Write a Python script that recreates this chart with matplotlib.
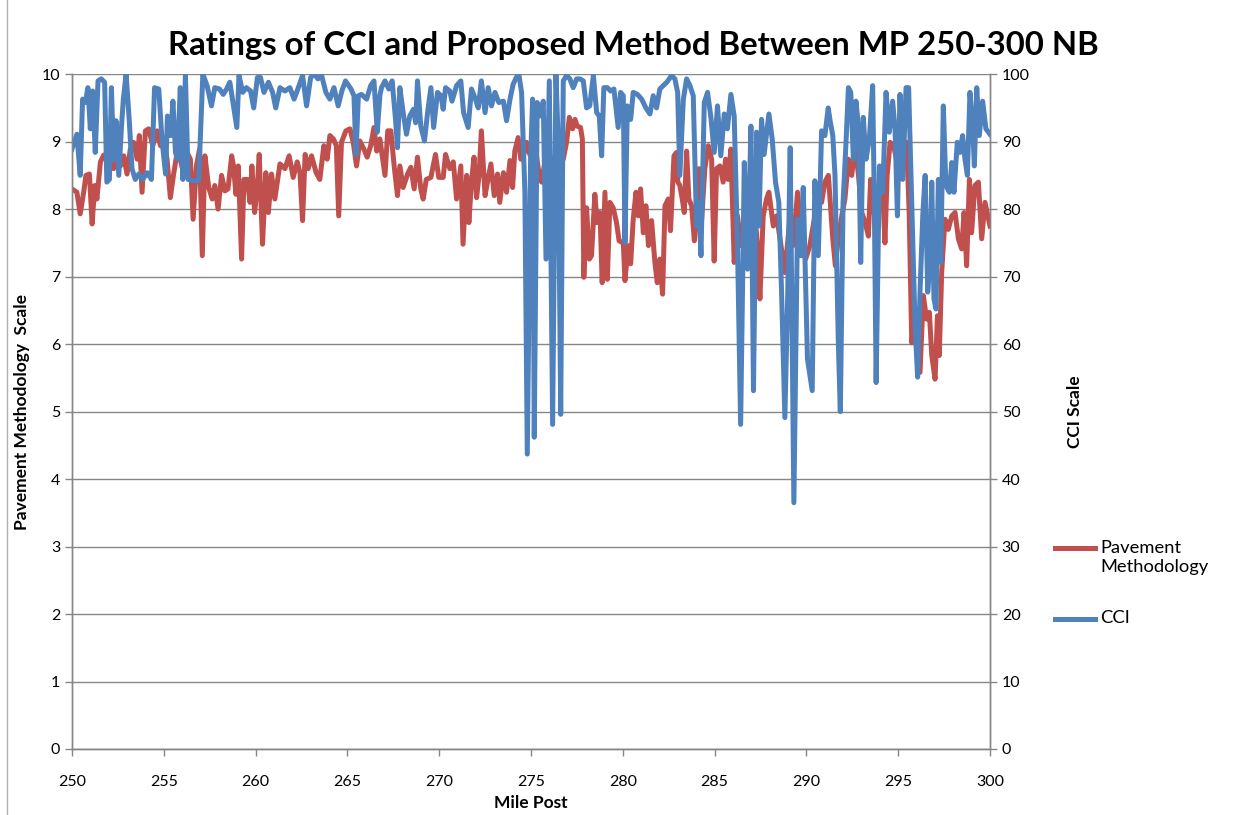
import matplotlib
matplotlib.use("Agg")
import matplotlib.pyplot as plt
from matplotlib.lines import Line2D

plt.rcParams['font.family'] = ['Lato', 'DejaVu Sans']

# Pavement methodology rating (left axis, 0-10)
pm_miles = [250.0, 250.27, 250.45, 250.64, 250.76, 250.95, 251.1, 251.24, 251.36, 251.55,
            251.73, 251.9, 252.1, 252.27, 252.45, 252.64, 252.82, 253.0, 253.18, 253.36,
            253.55, 253.67, 253.82, 254.0, 254.18, 254.4, 254.64, 254.82, 255.0, 255.18,
            255.36, 255.55, 255.73, 255.9, 256.1, 256.27, 256.45, 256.6, 256.78, 256.95,
            257.1, 257.24, 257.45, 257.64, 257.78, 257.96, 258.15, 258.33, 258.5, 258.7,
            258.8, 258.93, 259.06, 259.24, 259.37, 259.55, 259.7, 259.8, 259.95, 260.1,
            260.2, 260.38, 260.56, 260.7, 260.87, 261.05, 261.33, 261.6, 261.83, 262.05,
            262.27, 262.42, 262.56, 262.7, 262.87, 263.05, 263.3, 263.5, 263.72, 263.9,
            264.05, 264.24, 264.4, 264.53, 264.68, 264.92, 265.14, 265.32, 265.5, 265.68,
            265.9, 266.08, 266.27, 266.45, 266.6, 266.77, 267.05, 267.2, 267.37, 267.55,
            267.73, 267.86, 268.04, 268.28, 268.46, 268.64, 268.82, 269.0, 269.13, 269.3,
            269.55, 269.8, 269.98, 270.22, 270.35, 270.58, 270.77, 270.95, 271.18, 271.3,
            271.5, 271.62, 271.76, 271.9, 272.04, 272.17, 272.3, 272.5, 272.63, 272.82,
            273.0, 273.18, 273.3, 273.5, 273.67, 273.86, 274.0, 274.12, 274.3, 274.45,
            274.55, 274.76, 274.95, 275.2, 275.4, 275.58, 275.76, 276.03, 276.4, 276.76,
            276.94, 277.09, 277.27, 277.4, 277.52, 277.7, 277.8, 277.88, 278.03, 278.18,
            278.3, 278.48, 278.6, 278.76, 278.88, 279.03, 279.16, 279.3, 279.48, 279.66,
            279.8, 280.03, 280.12, 280.3, 280.43, 280.57, 280.72, 280.84, 280.97, 281.12,
            281.26, 281.4, 281.57, 281.75, 281.88, 282.02, 282.17, 282.3, 282.48, 282.6,
            282.79, 282.93, 283.0, 283.11, 283.24, 283.35, 283.48, 283.6, 283.75, 283.9,
            284.02, 284.15, 284.3, 284.47, 284.66, 284.84, 284.98, 285.11, 285.29, 285.47,
            285.6, 285.74, 285.89, 286.07, 286.25, 286.44, 286.65, 286.83, 287.02, 287.2,
            287.34, 287.47, 287.65, 287.83, 287.96, 288.2, 288.38, 288.62, 288.83, 289.1,
            289.28, 289.52, 289.74, 289.96, 290.19, 290.43, 290.6, 290.83, 291.01, 291.2,
            291.44, 291.58, 291.74, 291.93, 292.1, 292.29, 292.47, 292.65, 292.84, 293.02,
            293.2, 293.38, 293.5, 293.65, 293.83, 294.0, 294.16, 294.28, 294.4, 294.56,
            294.74, 294.92, 295.1, 295.28, 295.46, 295.6, 295.74, 295.86, 296.0, 296.19,
            296.37, 296.55, 296.7, 296.83, 297.01, 297.14, 297.24, 297.37, 297.55, 297.73,
            297.92, 298.1, 298.28, 298.46, 298.59, 298.73, 298.88, 299.0, 299.18, 299.37,
            299.55, 299.73, 300.0]
pm_scale = [8.3, 8.25, 7.93, 8.25, 8.5, 8.52, 7.78, 8.35, 8.15, 8.7,
            8.8, 8.81, 8.7, 8.6, 8.74, 8.64, 8.79, 8.52, 8.89, 8.99,
            8.74, 9.09, 8.25, 9.16, 9.19, 8.94, 9.16, 8.94, 9.04, 8.74,
            8.17, 8.54, 8.84, 8.74, 8.5, 8.84, 8.74, 7.85, 8.64, 8.89,
            7.31, 8.79, 8.32, 8.15, 8.35, 8.0, 8.5, 8.27, 8.3, 8.79,
            8.64, 8.22, 8.64, 7.26, 8.44, 8.44, 8.1, 8.64, 7.95, 8.35,
            8.81, 7.48, 8.54, 7.95, 8.52, 8.15, 8.67, 8.6, 8.79, 8.47,
            8.7, 8.54, 7.83, 8.81, 8.6, 8.79, 8.54, 8.44, 8.94, 8.74,
            9.09, 9.04, 8.94, 7.9, 8.99, 9.16, 9.19, 8.99, 8.64, 9.01,
            8.89, 8.77, 8.94, 9.21, 8.86, 9.04, 8.5, 9.16, 9.16, 8.64,
            8.2, 8.64, 8.32, 8.52, 8.62, 8.3, 8.77, 8.3, 8.15, 8.44,
            8.47, 8.81, 8.47, 8.47, 8.81, 8.6, 8.7, 8.15, 8.64, 7.48,
            8.5, 7.8, 8.4, 8.77, 8.17, 8.5, 9.16, 8.2, 8.4, 8.67,
            8.2, 8.52, 8.1, 8.54, 8.25, 8.72, 8.32, 8.86, 9.06, 8.74,
            8.74, 8.99, 8.8, 8.99, 8.6, 8.4, 8.7, 8.7, 8.8, 8.74,
            8.99, 9.36, 9.19, 9.33, 9.23, 9.21, 9.04, 6.99, 8.02, 7.26,
            7.31, 8.22, 7.8, 7.95, 6.91, 8.25, 6.96, 8.1, 8.02, 7.8,
            7.53, 7.5, 6.94, 7.46, 7.19, 7.85, 8.25, 7.9, 8.3, 7.65,
            8.05, 7.46, 7.83, 7.21, 6.91, 7.26, 6.74, 8.05, 8.15, 7.68,
            8.79, 8.84, 8.4, 8.35, 8.15, 7.95, 8.86, 8.15, 8.05, 7.53,
            7.85, 8.6, 7.85, 8.6, 8.94, 8.74, 7.23, 8.6, 8.64, 8.4,
            8.74, 8.44, 8.89, 7.21, 7.9, 7.46, 7.65, 7.75, 7.56, 7.9,
            7.46, 6.67, 7.9, 8.15, 8.25, 7.75, 7.9, 7.46, 7.06, 7.85,
            7.46, 8.25, 7.56, 7.26, 7.46, 7.85, 8.35, 8.1, 8.4, 8.5,
            7.56, 7.16, 7.56, 7.9, 8.15, 8.74, 8.5, 8.94, 8.5, 7.95,
            7.8, 7.6, 8.44, 7.95, 8.25, 8.35, 8.25, 7.5, 8.5, 8.99,
            8.94, 8.74, 8.69, 8.84, 8.99, 7.95, 6.02, 6.27, 5.98, 5.58,
            6.72, 6.37, 6.47, 5.83, 5.48, 6.42, 5.83, 7.06, 7.85, 7.7,
            7.9, 7.95, 7.56, 7.41, 7.95, 7.16, 8.44, 7.65, 8.35, 8.4,
            7.56, 8.1, 7.75]

# CCI rating (right axis, 0-100)
cci_miles = [250.0, 250.27, 250.45, 250.58, 250.73, 250.87, 251.0, 251.13, 251.27, 251.42,
             251.6, 251.78, 251.9, 252.04, 252.15, 252.27, 252.4, 252.55, 252.7, 252.8,
             252.95, 253.13, 253.27, 253.45, 253.64, 253.85, 254.1, 254.33, 254.5, 254.73,
             254.9, 255.1, 255.2, 255.38, 255.5, 255.64, 255.75, 255.9, 256.04, 256.18,
             256.33, 256.64, 256.9, 257.13, 257.36, 257.6, 257.78, 258.04, 258.24, 258.42,
             258.6, 258.8, 258.98, 259.1, 259.3, 259.5, 259.73, 259.9, 260.1, 260.27,
             260.46, 260.7, 260.93, 261.1, 261.33, 261.6, 261.87, 262.1, 262.33, 262.56,
             262.78, 263.0, 263.2, 263.4, 263.6, 263.83, 264.05, 264.27, 264.5, 264.7,
             264.9, 265.2, 265.36, 265.47, 265.6, 265.77, 266.05, 266.27, 266.45, 266.63,
             266.77, 266.86, 267.05, 267.26, 267.44, 267.63, 267.73, 267.86, 268.04, 268.22,
             268.4, 268.6, 268.72, 268.82, 269.0, 269.2, 269.37, 269.55, 269.7, 269.91,
             270.1, 270.22, 270.35, 270.58, 270.7, 270.95, 271.18, 271.33, 271.58, 271.76,
             271.95, 272.13, 272.3, 272.5, 272.67, 272.85, 273.04, 273.25, 273.5, 273.67,
             273.86, 274.03, 274.2, 274.34, 274.49, 274.67, 274.8, 274.98, 275.09, 275.18,
             275.34, 275.53, 275.67, 275.82, 276.0, 276.18, 276.36, 276.49, 276.62, 276.76,
             276.94, 277.12, 277.3, 277.49, 277.67, 277.85, 278.03, 278.2, 278.4, 278.58,
             278.72, 278.85, 278.97, 279.16, 279.34, 279.52, 279.75, 279.88, 280.03, 280.12,
             280.25, 280.43, 280.57, 280.8, 281.03, 281.26, 281.48, 281.66, 281.84, 282.02,
             282.2, 282.4, 282.66, 282.84, 282.99, 283.11, 283.3, 283.48, 283.66, 283.84,
             284.02, 284.15, 284.26, 284.44, 284.62, 284.8, 284.98, 285.16, 285.34, 285.53,
             285.7, 285.89, 286.07, 286.25, 286.42, 286.62, 286.8, 286.98, 287.12, 287.29,
             287.42, 287.56, 287.7, 287.96, 288.14, 288.32, 288.5, 288.65, 288.83, 288.98,
             289.12, 289.32, 289.52, 289.7, 289.83, 290.06, 290.32, 290.46, 290.65, 290.83,
             291.01, 291.19, 291.3, 291.44, 291.56, 291.74, 291.85, 292.0, 292.16, 292.29,
             292.42, 292.56, 292.7, 292.84, 292.96, 293.1, 293.25, 293.43, 293.61, 293.7,
             293.8, 293.98, 294.16, 294.34, 294.52, 294.7, 294.83, 294.96, 295.1, 295.25,
             295.43, 295.57, 295.74, 295.92, 296.06, 296.19, 296.34, 296.47, 296.61, 296.74,
             296.83, 296.95, 297.06, 297.19, 297.32, 297.46, 297.6, 297.79, 297.92, 298.04,
             298.22, 298.37, 298.51, 298.64, 298.77, 298.91, 299.06, 299.15, 299.28, 299.42,
             299.6, 299.78, 300.0]
cci_values = [88.9, 91.1, 85.0, 96.3, 95.8, 98.0, 91.9, 97.5, 88.4, 99.0,
              99.3, 98.8, 84.0, 84.4, 98.0, 87.4, 93.1, 85.0, 92.3, 96.3,
              100.0, 92.8, 86.0, 84.4, 85.2, 84.4, 85.4, 84.4, 98.0, 97.8,
              90.4, 85.2, 93.8, 90.9, 96.0, 88.4, 87.4, 98.0, 84.4, 100.0,
              84.4, 84.2, 84.2, 100.0, 98.3, 95.3, 98.0, 97.8, 97.0, 97.8,
              98.8, 95.3, 92.1, 99.8, 97.3, 98.0, 97.5, 95.0, 99.5, 99.5,
              97.3, 98.8, 97.3, 95.0, 98.0, 97.5, 98.0, 96.3, 98.0, 99.8,
              95.3, 99.5, 100.0, 99.3, 99.8, 97.3, 96.3, 98.0, 95.3, 97.5,
              99.0, 97.8, 96.8, 88.1, 96.8, 97.0, 96.3, 98.3, 99.0, 91.4,
              96.8, 98.0, 99.0, 97.8, 99.0, 93.1, 89.1, 98.0, 94.3, 91.1,
              93.8, 94.8, 92.8, 99.0, 92.3, 90.1, 94.3, 98.0, 92.1, 97.3,
              96.8, 94.8, 98.0, 97.5, 96.0, 98.3, 99.0, 94.3, 92.1, 97.8,
              96.5, 95.0, 99.0, 94.3, 98.0, 95.3, 97.3, 95.8, 96.0, 93.1,
              96.3, 98.5, 99.5, 100.0, 97.3, 82.5, 43.7, 87.4, 96.3, 46.2,
              95.8, 93.8, 96.0, 72.6, 99.0, 48.1, 100.0, 89.9, 49.6, 99.0,
              99.8, 99.3, 98.0, 99.3, 99.3, 99.0, 95.0, 95.3, 99.8, 94.3,
              93.8, 87.9, 98.0, 98.0, 97.5, 97.8, 92.1, 97.3, 96.8, 75.0,
              95.3, 93.3, 97.3, 97.0, 96.3, 95.0, 94.1, 96.8, 95.0, 97.8,
              98.3, 98.8, 99.8, 99.3, 97.3, 85.0, 96.3, 99.3, 98.3, 96.8,
              77.5, 81.0, 73.1, 95.8, 97.3, 93.6, 88.4, 95.3, 87.9, 94.1,
              91.9, 97.0, 93.8, 74.6, 48.1, 86.9, 71.1, 92.3, 53.1, 91.4,
              77.5, 93.3, 88.1, 94.1, 90.4, 84.0, 81.0, 67.7, 49.1, 66.7,
              89.1, 36.5, 78.5, 73.1, 83.2, 57.8, 53.1, 84.2, 73.1, 91.6,
              90.9, 95.0, 93.0, 90.9, 85.0, 60.2, 50.0, 81.0, 89.9, 98.0,
              97.3, 87.4, 96.0, 92.3, 72.1, 93.6, 87.4, 90.4, 98.3, 81.5,
              54.3, 86.4, 82.5, 97.3, 91.4, 96.0, 91.9, 79.0, 97.0, 84.4,
              98.0, 98.0, 81.0, 62.7, 55.1, 67.7, 79.0, 85.0, 67.7, 72.6,
              84.0, 66.7, 65.2, 84.4, 72.1, 95.3, 83.5, 82.5, 86.9, 82.5,
              89.9, 88.4, 90.9, 87.4, 85.0, 97.3, 92.3, 86.4, 98.0, 90.9,
              96.0, 91.9, 91.1]

x_ticks = list(range(250, 301, 5))
left_ticks = list(range(0, 11))
right_ticks = list(range(0, 101, 10))

red = '#C0504D'
blue = '#4F81BD'
axis_gray = '#868686'
lw = 3.6

fig = plt.figure(figsize=(12.49, 8.15), dpi=100)
ax = fig.add_axes([0.0576, 0.081, 0.735, 0.828])
ax2 = ax.twinx()

ax.plot(pm_miles, pm_scale, color=red, linewidth=lw, solid_joinstyle='round')
ax2.plot(cci_miles, cci_values, color=blue, linewidth=lw, solid_joinstyle='round')

ax.set_xlim(250, 300)
ax.set_ylim(0, 10)
ax2.set_ylim(0, 100)
ax.set_xticks(x_ticks)
ax.set_yticks(left_ticks)
ax2.set_yticks(right_ticks)

ax.yaxis.grid(True, color=axis_gray, linewidth=1.0)
ax.set_axisbelow(True)

for a in (ax, ax2):
    a.spines['top'].set_visible(False)
    for side in ('left', 'right', 'bottom'):
        a.spines[side].set_color(axis_gray)
        a.spines[side].set_linewidth(1.0)
    a.tick_params(colors=axis_gray, labelcolor='black', labelsize=11.5,
                  direction='out', length=5, width=1.0)
ax.tick_params(axis='x', pad=14)

fig.text(0.507, 0.944, 'Ratings of CCI and Proposed Method Between MP 250-300 NB',
         fontsize=23.7, fontweight='bold', ha='center', va='center')
ax.set_xlabel('Mile Post', fontsize=12.5, fontweight='bold', labelpad=4)
ax.set_ylabel('Pavement Methodology  Scale', fontsize=12.5, fontweight='bold', labelpad=8)
ax2.set_ylabel('CCI Scale', fontsize=12.5, fontweight='bold', labelpad=27)

# legend, with each line sample level with the first line of its label
legend_items = [(red, 'Pavement\nMethodology', 0.327), (blue, 'CCI', 0.240)]
for color, label, y in legend_items:
    fig.add_artist(Line2D([0.8446, 0.8766], [y, y], color=color, linewidth=lw,
                          transform=fig.transFigure))
    fig.text(0.8807, y + 0.011, label, fontsize=13.2, ha='left', va='top',
             linespacing=1.25)

# light outer chart border on the left edge
fig.add_artist(Line2D([0.0056, 0.0056], [0.0, 1.0], color='#B0B0B0', linewidth=1.0,
                      transform=fig.transFigure))

fig.savefig('out.png', dpi=100)
